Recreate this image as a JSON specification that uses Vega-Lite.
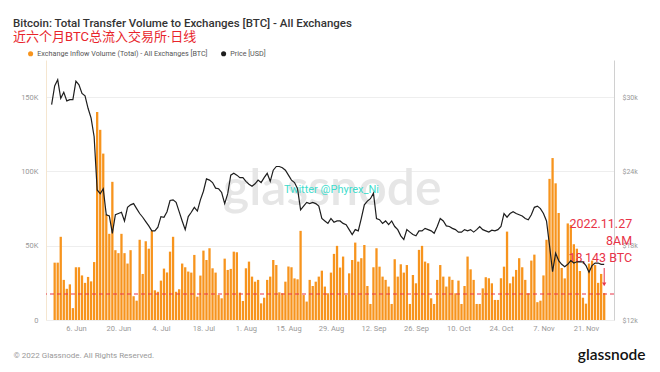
{
  "$schema": "https://vega.github.io/schema/vega-lite/v6.json",
  "width": 568,
  "height": 260,
  "autosize": {"type": "none"},
  "padding": {"left": 46, "top": 60, "right": 46, "bottom": 52},
  "background": "#ffffff",
  "config": {
    "view": {"stroke": null},
    "font": "Roboto"
  },
  "title": {
    "text": "Bitcoin: Total Transfer Volume to Exchanges [BTC] - All Exchanges",
    "subtitle": "近六个月BTC总流入交易所·日线",
    "anchor": "start",
    "frame": "group",
    "dx": -33,
    "offset": 6,
    "font": "Roboto",
    "fontSize": 11.5,
    "fontWeight": 500,
    "color": "#333333",
    "subtitleFont": "Roboto, Noto Sans CJK SC",
    "subtitleFontSize": 13,
    "subtitleColor": "#e8242b",
    "subtitlePadding": 1.5
  },
  "datasets": {
    "btc": [
      {"d": "2022-05-29", "p": 29400},
      {"d": "2022-05-30", "v": 38600, "p": 30900},
      {"d": "2022-05-31", "v": 38600, "p": 31400},
      {"d": "2022-06-01", "v": 56000, "p": 29900},
      {"d": "2022-06-02", "v": 27000, "p": 30400},
      {"d": "2022-06-03", "v": 21000, "p": 29700},
      {"d": "2022-06-04", "v": 24000, "p": 29800},
      {"d": "2022-06-05", "v": 8000, "p": 29800},
      {"d": "2022-06-06", "v": 35500, "p": 31300},
      {"d": "2022-06-07", "v": 35500, "p": 31000},
      {"d": "2022-06-08", "v": 30000, "p": 30300},
      {"d": "2022-06-09", "v": 25000, "p": 30100},
      {"d": "2022-06-10", "v": 29000, "p": 29100},
      {"d": "2022-06-11", "v": 26000, "p": 28300},
      {"d": "2022-06-12", "v": 39000, "p": 26800},
      {"d": "2022-06-13", "v": 140000, "p": 22500},
      {"d": "2022-06-14", "v": 128000, "p": 22200},
      {"d": "2022-06-15", "v": 112000, "p": 22600},
      {"d": "2022-06-16", "v": 71000, "p": 20500},
      {"d": "2022-06-17", "v": 58000, "p": 20400},
      {"d": "2022-06-18", "v": 93000, "p": 19000},
      {"d": "2022-06-19", "v": 47000, "p": 20500},
      {"d": "2022-06-20", "v": 45000, "p": 20600},
      {"d": "2022-06-21", "v": 58000, "p": 20700},
      {"d": "2022-06-22", "v": 45000, "p": 20000},
      {"d": "2022-06-23", "v": 38000, "p": 21100},
      {"d": "2022-06-24", "v": 47000, "p": 21300},
      {"d": "2022-06-25", "v": 16000, "p": 21400},
      {"d": "2022-06-26", "v": 13000, "p": 21000},
      {"d": "2022-06-27", "v": 54000, "p": 20600},
      {"d": "2022-06-28", "v": 31000, "p": 20300},
      {"d": "2022-06-29", "v": 53000, "p": 19950},
      {"d": "2022-06-30", "v": 48000, "p": 19600},
      {"d": "2022-07-01", "v": 60000, "p": 19200},
      {"d": "2022-07-02", "v": 20000, "p": 19200},
      {"d": "2022-07-03", "v": 19000, "p": 19500},
      {"d": "2022-07-04", "v": 26500, "p": 20350},
      {"d": "2022-07-05", "v": 34600, "p": 20300},
      {"d": "2022-07-06", "v": 32000, "p": 20750},
      {"d": "2022-07-07", "v": 46000, "p": 21650},
      {"d": "2022-07-08", "v": 56000, "p": 21700},
      {"d": "2022-07-09", "v": 19000, "p": 21500},
      {"d": "2022-07-10", "v": 20700, "p": 20750},
      {"d": "2022-07-11", "v": 38000, "p": 20000},
      {"d": "2022-07-12", "v": 35500, "p": 19300},
      {"d": "2022-07-13", "v": 32600, "p": 20350},
      {"d": "2022-07-14", "v": 31900, "p": 20700},
      {"d": "2022-07-15", "v": 43800, "p": 21100},
      {"d": "2022-07-16", "v": 15700, "p": 20800},
      {"d": "2022-07-17", "v": 29900, "p": 21700},
      {"d": "2022-07-18", "v": 46700, "p": 22400},
      {"d": "2022-07-19", "v": 40400, "p": 23400},
      {"d": "2022-07-20", "v": 48300, "p": 23300},
      {"d": "2022-07-21", "v": 34800, "p": 23100},
      {"d": "2022-07-22", "v": 31900, "p": 22650},
      {"d": "2022-07-23", "v": 16800, "p": 22600},
      {"d": "2022-07-24", "v": 14600, "p": 22300},
      {"d": "2022-07-25", "v": 41300, "p": 21400},
      {"d": "2022-07-26", "v": 33700, "p": 22200},
      {"d": "2022-07-27", "v": 34400, "p": 23700},
      {"d": "2022-07-28", "v": 46000, "p": 23850},
      {"d": "2022-07-29", "v": 45600, "p": 23700},
      {"d": "2022-07-30", "v": 18400, "p": 23500},
      {"d": "2022-07-31", "v": 12800, "p": 23500},
      {"d": "2022-08-01", "v": 34800, "p": 23200},
      {"d": "2022-08-02", "v": 39300, "p": 22970},
      {"d": "2022-08-03", "v": 29200, "p": 22800},
      {"d": "2022-08-04", "v": 25800, "p": 23000},
      {"d": "2022-08-05", "v": 27000, "p": 23300},
      {"d": "2022-08-06", "v": 11200, "p": 23100},
      {"d": "2022-08-07", "v": 15000, "p": 23500},
      {"d": "2022-08-08", "v": 27000, "p": 23850},
      {"d": "2022-08-09", "v": 29200, "p": 23200},
      {"d": "2022-08-10", "v": 40400, "p": 24100},
      {"d": "2022-08-11", "v": 37000, "p": 24400},
      {"d": "2022-08-12", "v": 18600, "p": 24400},
      {"d": "2022-08-13", "v": 18000, "p": 24300},
      {"d": "2022-08-14", "v": 25800, "p": 24100},
      {"d": "2022-08-15", "v": 36000, "p": 23700},
      {"d": "2022-08-16", "v": 35500, "p": 23300},
      {"d": "2022-08-17", "v": 28000, "p": 23100},
      {"d": "2022-08-18", "v": 27400, "p": 22600},
      {"d": "2022-08-19", "v": 60000, "p": 20900},
      {"d": "2022-08-20", "v": 16800, "p": 21200},
      {"d": "2022-08-21", "v": 12400, "p": 21500},
      {"d": "2022-08-22", "v": 27000, "p": 21400},
      {"d": "2022-08-23", "v": 22900, "p": 21500},
      {"d": "2022-08-24", "v": 25800, "p": 21400},
      {"d": "2022-08-25", "v": 29200, "p": 21200},
      {"d": "2022-08-26", "v": 33200, "p": 20200},
      {"d": "2022-08-27", "v": 22500, "p": 20000},
      {"d": "2022-08-28", "v": 18000, "p": 19800},
      {"d": "2022-08-29", "v": 31900, "p": 20200},
      {"d": "2022-08-30", "v": 44500, "p": 19900},
      {"d": "2022-08-31", "v": 49900, "p": 20000},
      {"d": "2022-09-01", "v": 35300, "p": 20000},
      {"d": "2022-09-02", "v": 42700, "p": 19800},
      {"d": "2022-09-03", "v": 16800, "p": 19700},
      {"d": "2022-09-04", "v": 31400, "p": 19300},
      {"d": "2022-09-05", "v": 40400, "p": 18900},
      {"d": "2022-09-06", "v": 52100, "p": 19300},
      {"d": "2022-09-07", "v": 39300, "p": 19200},
      {"d": "2022-09-08", "v": 41600, "p": 20200},
      {"d": "2022-09-09", "v": 50500, "p": 21300},
      {"d": "2022-09-10", "v": 22900, "p": 21600},
      {"d": "2022-09-11", "v": 10800, "p": 21800},
      {"d": "2022-09-12", "v": 35500, "p": 22250},
      {"d": "2022-09-13", "v": 48300, "p": 20200},
      {"d": "2022-09-14", "v": 35900, "p": 20100},
      {"d": "2022-09-15", "v": 29200, "p": 19800},
      {"d": "2022-09-16", "v": 27000, "p": 20000},
      {"d": "2022-09-17", "v": 22500, "p": 19700},
      {"d": "2022-09-18", "v": 10800, "p": 20000},
      {"d": "2022-09-19", "v": 40900, "p": 19550},
      {"d": "2022-09-20", "v": 29200, "p": 19300},
      {"d": "2022-09-21", "v": 37500, "p": 18800},
      {"d": "2022-09-22", "v": 31900, "p": 18500},
      {"d": "2022-09-23", "v": 37000, "p": 19300},
      {"d": "2022-09-24", "v": 10800, "p": 19100},
      {"d": "2022-09-25", "v": 30300, "p": 18900},
      {"d": "2022-09-26", "v": 24700, "p": 18800},
      {"d": "2022-09-27", "v": 47200, "p": 19200},
      {"d": "2022-09-28", "v": 49900, "p": 19200},
      {"d": "2022-09-29", "v": 39300, "p": 19400},
      {"d": "2022-09-30", "v": 38200, "p": 19300},
      {"d": "2022-10-01", "v": 14600, "p": 19200},
      {"d": "2022-10-02", "v": 10800, "p": 19000},
      {"d": "2022-10-03", "v": 27000, "p": 19550},
      {"d": "2022-10-04", "v": 37000, "p": 20200},
      {"d": "2022-10-05", "v": 29200, "p": 20000},
      {"d": "2022-10-06", "v": 22500, "p": 19600},
      {"d": "2022-10-07", "v": 29200, "p": 19550},
      {"d": "2022-10-08", "v": 27000, "p": 19400},
      {"d": "2022-10-09", "v": 18000, "p": 19300},
      {"d": "2022-10-10", "v": 26500, "p": 19100},
      {"d": "2022-10-11", "v": 10800, "p": 19100},
      {"d": "2022-10-12", "v": 22900, "p": 19300},
      {"d": "2022-10-13", "v": 42700, "p": 19200},
      {"d": "2022-10-14", "v": 34100, "p": 19300},
      {"d": "2022-10-15", "v": 27000, "p": 19100},
      {"d": "2022-10-16", "v": 10800, "p": 19300},
      {"d": "2022-10-17", "v": 10800, "p": 19550},
      {"d": "2022-10-18", "v": 21300, "p": 19300},
      {"d": "2022-10-19", "v": 28800, "p": 19200},
      {"d": "2022-10-20", "v": 28100, "p": 19100},
      {"d": "2022-10-21", "v": 24700, "p": 19250},
      {"d": "2022-10-22", "v": 13500, "p": 19200},
      {"d": "2022-10-23", "v": 13500, "p": 19300},
      {"d": "2022-10-24", "v": 28100, "p": 19550},
      {"d": "2022-10-25", "v": 35900, "p": 20600},
      {"d": "2022-10-26", "v": 59500, "p": 20300},
      {"d": "2022-10-27", "v": 24700, "p": 20600},
      {"d": "2022-10-28", "v": 29200, "p": 20750},
      {"d": "2022-10-29", "v": 33700, "p": 20600},
      {"d": "2022-10-30", "v": 41600, "p": 20500},
      {"d": "2022-10-31", "v": 35500, "p": 20400},
      {"d": "2022-11-01", "v": 27000, "p": 20200},
      {"d": "2022-11-02", "v": 18000, "p": 20100},
      {"d": "2022-11-03", "v": 40000, "p": 20500},
      {"d": "2022-11-04", "v": 44000, "p": 21100},
      {"d": "2022-11-05", "v": 12000, "p": 21200},
      {"d": "2022-11-06", "v": 13000, "p": 21000},
      {"d": "2022-11-07", "v": 30000, "p": 20600},
      {"d": "2022-11-08", "v": 54000, "p": 20000},
      {"d": "2022-11-09", "v": 95000, "p": 18000},
      {"d": "2022-11-10", "v": 109000, "p": 15900},
      {"d": "2022-11-11", "v": 92000, "p": 17400},
      {"d": "2022-11-12", "v": 72000, "p": 16800},
      {"d": "2022-11-13", "v": 35000, "p": 16500},
      {"d": "2022-11-14", "v": 28000, "p": 16300},
      {"d": "2022-11-15", "v": 65000, "p": 16500},
      {"d": "2022-11-16", "v": 64000, "p": 16800},
      {"d": "2022-11-17", "v": 51000, "p": 16600},
      {"d": "2022-11-18", "v": 48000, "p": 16700},
      {"d": "2022-11-19", "v": 33000, "p": 16700},
      {"d": "2022-11-20", "v": 15000, "p": 16700},
      {"d": "2022-11-21", "v": 11000, "p": 16400},
      {"d": "2022-11-22", "v": 38000, "p": 15850},
      {"d": "2022-11-23", "v": 40000, "p": 16400},
      {"d": "2022-11-24", "v": 37000, "p": 16600},
      {"d": "2022-11-25", "v": 25000, "p": 16600},
      {"d": "2022-11-26", "v": 31000, "p": 16500},
      {"d": "2022-11-27", "v": 18143, "p": 16500}
    ]
  },
  "data": {"name": "btc"},
  "layer": [
    {
      "layer": [
        {
          "mark": {"type": "text", "text": "glassnode", "font": "Lato", "fontSize": 50, "fontWeight": 600, "color": "#e6e6e6", "align": "center", "baseline": "alphabetic"},
          "data": {"values": [{}]},
          "encoding": {
            "x": {"datum": {"year": 2022, "month": 8, "date": 29, "hours": 10, "utc": true}, "type": "temporal"},
            "y": {"datum": 77400, "type": "quantitative"}
          }
        },
        {
          "mark": {"type": "bar", "size": 2.3, "color": "#f7941d"},
          "transform": [{"filter": "isValid(datum.v)"}],
          "encoding": {
            "x": {
              "field": "d", "type": "temporal",
              "scale": {"type": "utc", "domain": [{"year": 2022, "month": 5, "date": 28, "hours": 19, "utc": true}, {"year": 2022, "month": 11, "date": 28, "hours": 14, "utc": true}]},
              "axis": {
                "values": [
                  {"year": 2022, "month": 6, "date": 6, "utc": true},
                  {"year": 2022, "month": 6, "date": 20, "utc": true},
                  {"year": 2022, "month": 7, "date": 4, "utc": true},
                  {"year": 2022, "month": 7, "date": 18, "utc": true},
                  {"year": 2022, "month": 8, "date": 1, "utc": true},
                  {"year": 2022, "month": 8, "date": 15, "utc": true},
                  {"year": 2022, "month": 8, "date": 29, "utc": true},
                  {"year": 2022, "month": 9, "date": 12, "utc": true},
                  {"year": 2022, "month": 9, "date": 26, "utc": true},
                  {"year": 2022, "month": 10, "date": 10, "utc": true},
                  {"year": 2022, "month": 10, "date": 24, "utc": true},
                  {"year": 2022, "month": 11, "date": 7, "utc": true},
                  {"year": 2022, "month": 11, "date": 21, "utc": true}
                ],
                "format": "%-d. %b",
                "grid": false, "ticks": false, "domain": false,
                "labelFont": "Roboto", "labelFontSize": 7.5, "labelColor": "#999999", "labelPadding": 4,
                "title": "© 2022 Glassnode. All Rights Reserved.",
                "titleX": -33, "titleY": 35, "titleAlign": "left", "titleAnchor": "start", "titleBaseline": "middle",
                "titleFont": "Roboto", "titleFontSize": 8, "titleFontWeight": "normal", "titleColor": "#999999"
              }
            },
            "y": {
              "field": "v", "type": "quantitative",
              "scale": {"domain": [0, 175000], "nice": false},
              "axis": {
                "orient": "left",
                "values": [0, 25000, 50000, 75000, 100000, 125000, 150000, 175000],
                "labelExpr": "datum.value % 50000 === 0 ? (datum.value === 0 ? '0' : (datum.value / 1000) + 'K') : ''",
                "grid": true, "gridColor": "#eeeeee", "gridWidth": 1,
                "ticks": false, "domain": true, "domainColor": "#f5e6d0",
                "labelFont": "Roboto", "labelFontSize": 7.5, "labelColor": "#999999", "labelPadding": 8,
                "title": null
              }
            },
            "color": {
              "datum": "Exchange Inflow Volume (Total) - All Exchanges [BTC]",
              "scale": {"domain": ["Exchange Inflow Volume (Total) - All Exchanges [BTC]", "Price [USD]"], "range": ["#f7941d", "#1e1e1e"]},
              "legend": {
                "orient": "none", "legendX": -19, "legendY": -10, "direction": "horizontal",
                "title": null, "symbolType": "circle", "symbolSize": 26, "symbolStrokeWidth": 0,
                "labelFont": "Roboto", "labelFontSize": 7.2, "labelColor": "#555555", "labelOffset": 3, "labelLimit": 400,
                "columnPadding": 12, "padding": 0
              }
            }
          }
        },
        {
          "mark": {"type": "rule", "color": "#e83347", "strokeWidth": 1, "strokeDash": [4, 3]},
          "data": {"values": [{}]},
          "encoding": {
            "y": {"datum": 17500, "type": "quantitative"}
          }
        },
        {
          "mark": {"type": "text", "text": ["2022.11.27", "8AM", "18,143 BTC"], "font": "Roboto", "fontSize": 12.5, "lineHeight": 17, "color": "#e83347", "align": "right", "baseline": "top", "dx": 28},
          "data": {"values": [{}]},
          "encoding": {
            "x": {"datum": {"year": 2022, "month": 11, "date": 27, "utc": true}, "type": "temporal"},
            "y": {"datum": 68500, "type": "quantitative"}
          }
        },
        {
          "mark": {"type": "rule", "color": "#e83347", "strokeWidth": 1},
          "data": {"values": [{}]},
          "encoding": {
            "x": {"datum": {"year": 2022, "month": 11, "date": 27, "utc": true}, "type": "temporal"},
            "y": {"datum": 35000, "type": "quantitative"},
            "y2": {"datum": 25000}
          }
        },
        {
          "mark": {"type": "point", "shape": "triangle-down", "filled": true, "size": 18, "color": "#e83347", "opacity": 1},
          "data": {"values": [{}]},
          "encoding": {
            "x": {"datum": {"year": 2022, "month": 11, "date": 27, "utc": true}, "type": "temporal"},
            "y": {"datum": 24000, "type": "quantitative"}
          }
        },
        {
          "mark": {"type": "text", "text": "Twitter @Phyrex_Ni", "font": "Roboto", "fontSize": 11, "color": "#3fdccc", "align": "center", "baseline": "middle"},
          "data": {"values": [{}]},
          "encoding": {
            "x": {"datum": {"year": 2022, "month": 8, "date": 29, "hours": 4, "utc": true}, "type": "temporal"},
            "y": {"datum": 87200, "type": "quantitative"}
          }
        }
      ]
    },
    {
      "mark": {"type": "line", "strokeWidth": 1.2, "interpolate": "linear"},
      "encoding": {
        "x": {"field": "d", "type": "temporal"},
        "y": {
          "field": "p", "type": "quantitative",
          "scale": {"domain": [12000, 33000], "nice": false, "zero": false},
          "axis": {
            "orient": "right",
            "values": [12000, 18000, 24000, 30000],
            "labelExpr": "'$' + (datum.value / 1000) + 'k'",
            "grid": false, "ticks": false, "domain": true, "domainColor": "#d0d0d0",
            "labelFont": "Roboto", "labelFontSize": 7, "labelColor": "#999999", "labelPadding": 8,
            "title": "glassnode",
            "titleX": 31, "titleY": 299, "titleAngle": 0, "titleAlign": "right", "titleBaseline": "alphabetic",
            "titleFont": "Lato", "titleFontSize": 15.5, "titleFontWeight": 600, "titleColor": "#111111"
          }
        },
        "color": {"datum": "Price [USD]", "legend": null}
      }
    }
  ],
  "resolve": {"scale": {"y": "independent"}}
}
